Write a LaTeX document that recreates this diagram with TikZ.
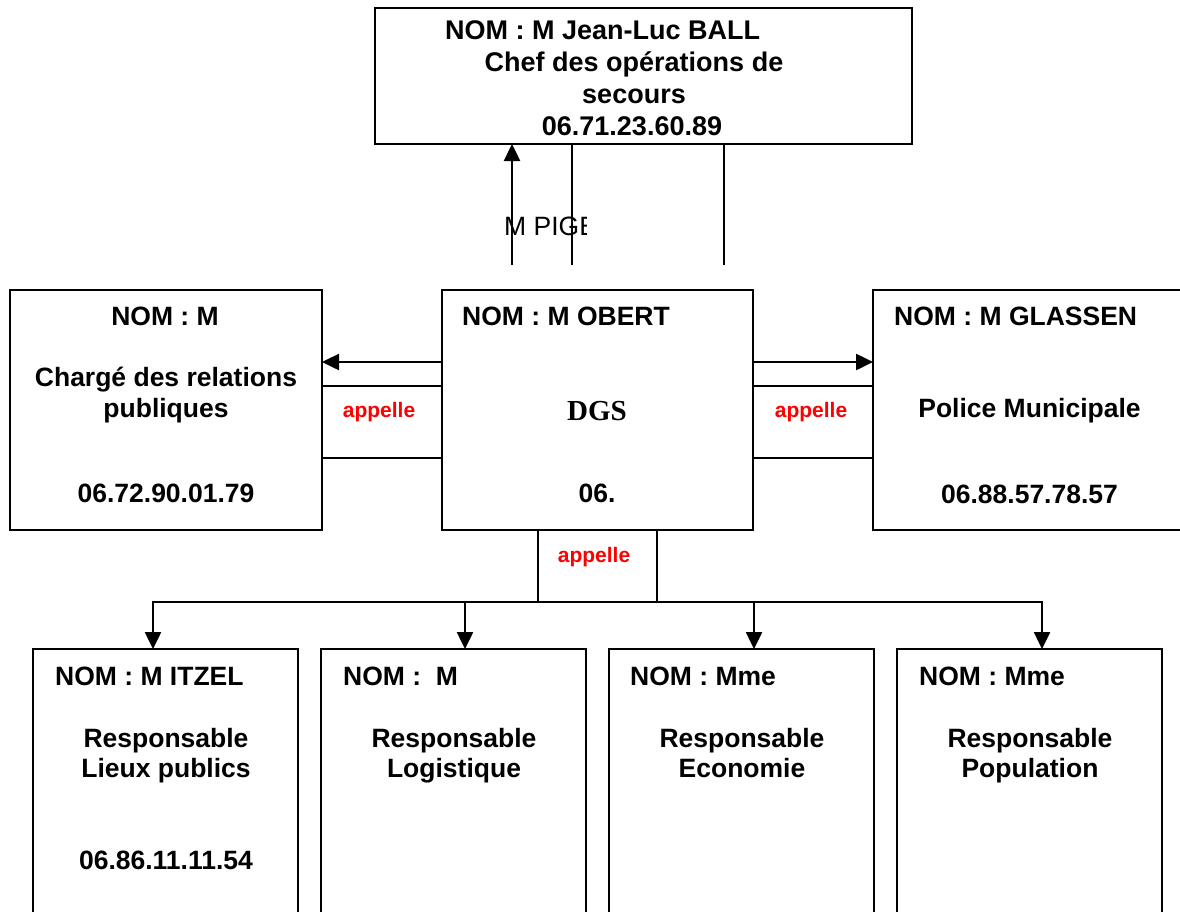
\documentclass[tikz,border=0pt]{standalone}
\usepackage{fontspec}
\setmainfont{Liberation Sans}
\newfontfamily\dgsfont{Liberation Serif}
\usetikzlibrary{arrows.meta}

\begin{document}
\begin{tikzpicture}[x=1pt, y=-1pt,
  box/.style={draw, line width=2pt, inner sep=0pt, outer sep=0pt},
  txt/.style={inner sep=0pt, anchor=base, font=\fontsize{26.5}{32}\selectfont\bfseries},
  nom/.style={txt, anchor=base west},
  topline/.style={txt, font=\fontsize{27}{32}\selectfont\bfseries},
  call/.style={inner sep=0pt, anchor=base, text=red, font=\fontsize{21}{25}\selectfont\bfseries},
  arr/.style={-{Triangle[length=17pt, width=16pt]}, line width=2.5pt},
  link/.style={line width=2pt}]
\useasboundingbox (0,0) rectangle (1180,911);
\clip (0,0) rectangle (1180,911);
\fill[white] (0,0) rectangle (1180,911);

% boxes
\node[box, minimum width=537pt, minimum height=136pt] (cos) at (643,76) {};
\node[box, minimum width=312pt, minimum height=240pt] (rel) at (166,410) {};
\node[box, minimum width=311pt, minimum height=240pt] (dgs) at (597.5,410) {};
\node[box, minimum width=327pt, minimum height=240pt] (pm) at (1036.5,410) {};
\node[box, minimum width=120pt, minimum height=72pt] (call1) at (382,422) {};
\node[box, minimum width=120pt, minimum height=72pt] (call2) at (813,422) {};
\node[box, minimum width=119pt, minimum height=72pt] (call3) at (597.5,566) {};
\node[box, minimum width=265pt, minimum height=290pt] (lieux) at (165.5,794) {};
\node[box, minimum width=265pt, minimum height=290pt] (logi) at (453.5,794) {};
\node[box, minimum width=265pt, minimum height=290pt] (eco) at (741.5,794) {};
\node[box, minimum width=265pt, minimum height=290pt] (pop) at (1029.5,794) {};

% chef des operations
\node[topline, anchor=base west] (cosNom) at (445,39) {NOM : M Jean-Luc BALL};
\node[topline] (cosRole) at (634,71) {Chef des opérations de};
\node[topline] (cosRole2) at (634,103) {secours};
\node[topline] (cosTel) at (632,135) {06.71.23.60.89};

% relations publiques
\node[txt] (relNom) at (165,325) {NOM : M};
\node[txt] (relRole) at (166,386) {Chargé des relations};
\node[txt] (relRole2) at (166,417) {publiques};
\node[txt] (relTel) at (166,502) {06.72.90.01.79};

% DGS
\node[nom] (dgsNom) at (462,325) {NOM : M OBERT};
\node[txt, font=\dgsfont\fontsize{29}{34}\selectfont\bfseries] (dgsRole) at (597,420) {DGS};
\node[txt] (dgsTel) at (597,502) {06.};

% police municipale
\node[nom] (pmNom) at (894,325) {NOM : M GLASSEN};
\node[txt] (pmRole) at (1029.5,417) {Police Municipale};
\node[txt] (pmTel) at (1029.5,503) {06.88.57.78.57};

% appelle
\node[call] (call1txt) at (379,417) {appelle};
\node[call] (call2txt) at (811,417) {appelle};
\node[call] (call3txt) at (594,562) {appelle};

% responsables
\node[nom] (lieuxNom) at (55,685) {NOM : M ITZEL};
\node[txt] (lieuxRole) at (166,747) {Responsable};
\node[txt] (lieuxRole2) at (166,777) {Lieux publics};
\node[txt] (lieuxTel) at (166,869) {06.86.11.11.54};
\node[nom] (logiNom) at (343,685) {NOM : \ M};
\node[txt] (logiRole) at (454,747) {Responsable};
\node[txt] (logiRole2) at (454,777) {Logistique};
\node[nom] (ecoNom) at (630,685) {NOM : Mme};
\node[txt] (ecoRole) at (742,747) {Responsable};
\node[txt] (ecoRole2) at (742,777) {Economie};
\node[nom] (popNom) at (919,685) {NOM : Mme};
\node[txt] (popRole) at (1030,747) {Responsable};
\node[txt] (popRole2) at (1030,777) {Population};

% M PIGE, cut off on the right
\begin{scope}
\clip (490,200) rectangle (586,250);
\node[txt, anchor=base west, font=\fontsize{26.5}{32}\selectfont] (pige) at (504,235) {M PIGE};
\end{scope}

% links to the chef
\coordinate (p1) at (512,265);
\coordinate (p2) at (572,265);
\coordinate (p3) at (724,265);
\draw[arr] (p1) -- (p1 |- cos.south);
\draw[link] (p2) -- (p2 |- cos.south);
\draw[link] (p3) -- (p3 |- cos.south);

% DGS calls
\draw[arr] ([yshift=48pt]dgs.west) -- ([yshift=48pt]rel.east);
\draw[arr] ([yshift=48pt]dgs.east) -- ([yshift=48pt]pm.west);
\draw[arr] (call3.south) -| ([xshift=-12.5pt]lieux.north);
\draw[arr] (call3.south) -| ([xshift=11.5pt]logi.north);
\draw[arr] (call3.south) -| ([xshift=12.5pt]eco.north);
\draw[arr] (call3.south) -| ([xshift=12.5pt]pop.north);

\end{tikzpicture}
\end{document}
